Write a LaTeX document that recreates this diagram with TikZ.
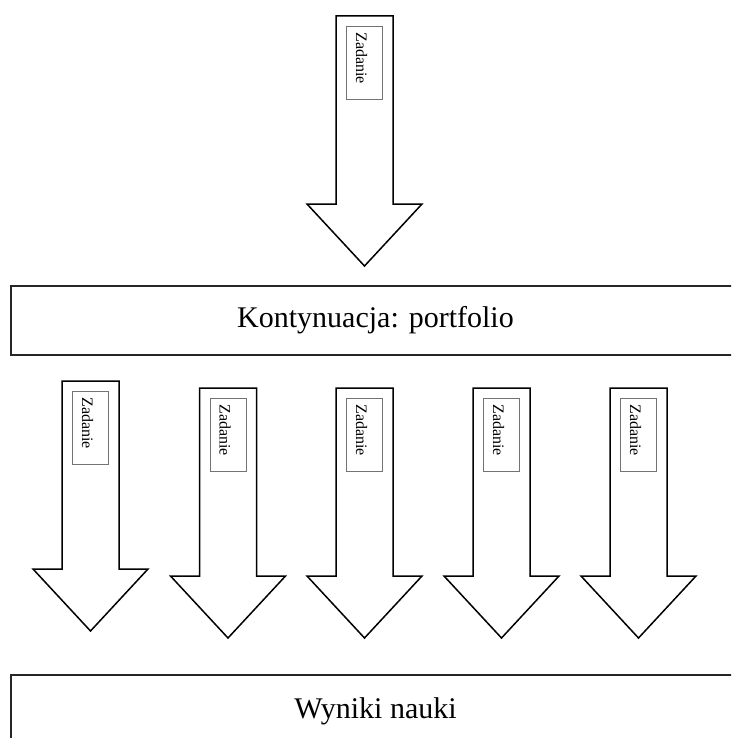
\documentclass[tikz,border=0pt]{standalone}
\usepackage{fontspec}
\setmainfont{Liberation Serif}
\begin{document}
\begin{tikzpicture}[x=1pt,y=-1pt,
  arrowline/.style={draw=black,line width=1.5pt,fill=white,line join=miter},
  bigbox/.style={draw=black!85,line width=2pt,fill=white},
  tagbox/.style={draw=black!55,line width=0.9pt,fill=white},
  tagtext/.style={inner sep=0pt,rotate=-90,font=\fontsize{16}{16}\selectfont},
  bigtext/.style={inner sep=0pt,anchor=base,font=\fontsize{30}{30}\selectfont},
  bigarrow/.pic={
    \path[arrowline] (-28.5,0) -- (28.5,0) -- (28.5,188) -- (57.5,188) -- (0,250)
      -- (-57.5,188) -- (-28.5,188) -- cycle;
    \path[tagbox] (-18,10.5) rectangle (18,83);
    \node[tagtext] (-tag) at (-3,42) {Zadanie};
  }]
\useasboundingbox (0,0) rectangle (731,738);
\clip (0,0) rectangle (731,738);
% top arrow
\pic (a0) at (364.5,16) {bigarrow};
% middle box
\path[bigbox] (11,286) rectangle (745,355);
\node[bigtext] (k) at (375.5,327) {Kontynuacja: portfolio};
% lower arrows
\pic (a1) at (90.5,381) {bigarrow};
\pic (a2) at (228,388) {bigarrow};
\pic (a3) at (364.5,388) {bigarrow};
\pic (a4) at (501.5,388) {bigarrow};
\pic (a5) at (638.5,388) {bigarrow};
% bottom box
\path[bigbox] (11,675) rectangle (745,760);
\node[bigtext] (w) at (375.5,718) {Wyniki nauki};
\end{tikzpicture}
\end{document}
